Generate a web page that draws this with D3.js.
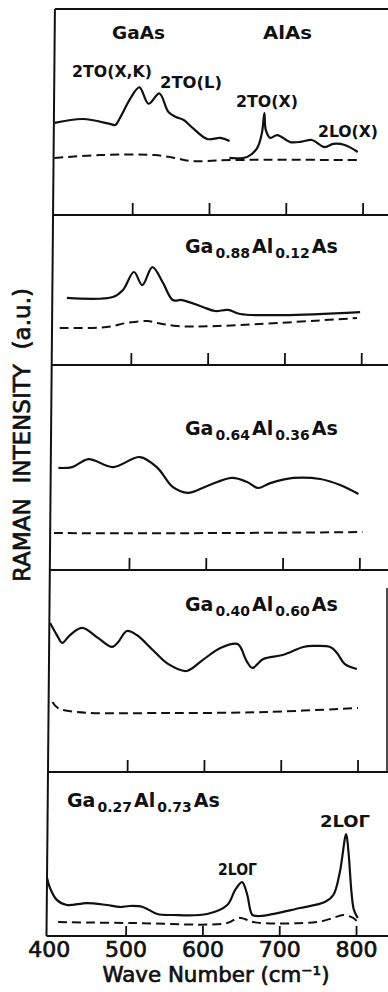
<!DOCTYPE html>
<html>
<head>
<meta charset="utf-8">
<script src="https://cdn.jsdelivr.net/npm/d3@7"></script>
<style>
  body { margin: 0; background: #fff; }
  svg { display: block; }
</style>
</head>
<body>
<div id="chart"></div>
<script>
// Raman spectra, five stacked panels. x = wave number (cm-1), y = intensity (a.u., 0-100 per panel)
const waveTicks = [400, 500, 600, 700, 800];

// panel 1: GaAs and AlAs
const gaasSolid = [[398,44.7],[435,46.6],[470,44.2],[477,43.7],[483,47.1],[497,57],[508,62],[520,54],[534,59],[546,50],[556,47.6],[566,46.1],[578,42.2],[597,36.9],[614,37.4],[626,35.9]];
const alasSolid = [[626,27.7],[649,28.2],[662,32.5],[668,39.8],[671,49.5],[673,41.3],[679,37.4],[688,38.8],[705,35.4],[720,35.6],[733,36.4],[750,33.0],[761,34.5],[776,34.0],[793,30.6]];
const p1Dashed = [[398,27.7],[458,29.1],[529,29.1],[555,27.7],[575,26.2],[627,26.7],[792,26.7]];

// panel 2: Ga0.88Al0.12As
const p2Solid = [[416,44.7],[476,45.3],[489,50],[503,62],[514,53.3],[527,65.3],[541,54.7],[554,43.3],[566,43.3],[593,38.7],[609,36],[626,36.7],[642,34],[698,33.3],[798,35.3]];
const p2Dashed = [[407,24.7],[468,25.3],[494,28],[521,29.3],[534,28],[560,26],[612,26],[794,31.3]];

// panel 3: Ga0.64Al0.36As
const p3Solid = [[407,49.8],[425,50.2],[446,54.1],[478,50.2],[513,55.1],[536,49.8],[556,40.5],[576,37.6],[601,41],[633,44.9],[653,42.9],[667,40],[683,42.4],[713,44.9],[748,44.4],[774,41.5],[798,37.1]];
const p3Dashed = [[402,18],[600,18],[804,18.5]];

// panel 4: Ga0.40Al0.60As
const p4Solid = [[398,73.8],[407,67.8],[414,63.9],[424,67.8],[440,71.3],[459,66.8],[479,61.9],[487,64.4],[498,69.8],[511,67.8],[532,60.4],[552,53.5],[576,50],[597,55.4],[620,61.4],[642,63.4],[646,61.9],[655,54.5],[662,51.5],[676,55.9],[701,57.9],[728,61.9],[741,62.4],[763,61.9],[772,58.9],[782,53.5],[798,51]];
const p4Dashed = [[402,34.7],[409,31.7],[434,29.7],[551,29.2],[681,29.7],[800,31.7]];

// panel 5: Ga0.27Al0.73As
const p5Solid = [[397,35.4],[401,29.3],[410,22],[423,18.9],[449,20.1],[475,18.9],[492,17.7],[505,18.3],[522,17.7],[541,13.4],[561,12.8],[606,13.4],[632,18.9],[642,28],[651,32.9],[658,25],[662,15.9],[665,12.8],[675,12.2],[727,17.1],[759,20.7],[770,25],[778,38.4],[786,62.2],[789,52.4],[794,25],[797,15.9],[802,11]];
const p5Dashed = [[412,8.5],[509,7.9],[632,7.9],[646,11],[655,10.4],[666,8.5],[749,8.5],[770,11],[783,12.8],[796,11],[802,8.5]];

const panelSeries = [
  { solid: [gaasSolid, alasSolid], dashed: p1Dashed },
  { solid: [p2Solid], dashed: p2Dashed },
  { solid: [p3Solid], dashed: p3Dashed },
  { solid: [p4Solid], dashed: p4Dashed },
  { solid: [p5Solid], dashed: p5Dashed }
];

// compound labels: alternating element / subscript
const formulaLabels = [
  { x: 185, y: 253, parts: ["Ga", "0.88", "Al", "0.12", "As"] },
  { x: 185, y: 435, parts: ["Ga", "0.64", "Al", "0.36", "As"] },
  { x: 185, y: 611, parts: ["Ga", "0.40", "Al", "0.60", "As"] },
  { x: 67, y: 807, parts: ["Ga", "0.27", "Al", "0.73", "As"] }
];

const peakLabels = [
  { text: "GaAs", x: 112, y: 39, w: 53, size: 18 },
  { text: "AlAs", x: 263, y: 39, w: 49, size: 18 },
  { text: "2TO(X,K)", x: 72, y: 77, w: 80, size: 16 },
  { text: "2TO(L)", x: 160, y: 88, w: 62, size: 16 },
  { text: "2TO(X)", x: 236, y: 107, w: 62, size: 16 },
  { text: "2LO(X)", x: 318, y: 137, w: 60, size: 16 },
  { text: "2LO\u0393", x: 218, y: 875, w: 39, size: 16 },
  { text: "2LO\u0393", x: 320, y: 827, w: 50, size: 16 }
];

const width = 388, height = 992;
const panelEdges = [9, 215, 365, 570, 772, 936];
const bottom = panelEdges[panelEdges.length - 1];
const font = "'DejaVu Sans', sans-serif";

const svg = d3.select("#chart").append("svg")
  .attr("width", width)
  .attr("height", height);

const x = d3.scaleLinear().domain([397, 840]).range([46.5, 386.7]);

// the scanned figure leans slightly, so skew the plot group
const plot = svg.append("g")
  .attr("transform", `translate(0,${bottom}) skewX(-0.52) translate(0,${-bottom})`);

// left frame line
plot.append("line")
  .attr("x1", x(397)).attr("x2", x(397))
  .attr("y1", panelEdges[0]).attr("y2", bottom)
  .attr("stroke", "#111").attr("stroke-width", 2);

panelSeries.forEach((p, i) => {
  const top = panelEdges[i], bot = panelEdges[i + 1];
  const y = d3.scaleLinear().domain([0, 100]).range([bot, top]);
  const line = d3.line()
    .x(d => x(d[0]))
    .y(d => y(d[1]))
    .curve(d3.curveCatmullRom.alpha(0.5));

  // inward ticks on the bottom edge of each panel
  const axis = plot.append("g")
    .attr("transform", `translate(0,${bot})`)
    .call(d3.axisTop(x).tickValues(waveTicks.slice(1)).tickSize(i === 4 ? 10 : 12).tickFormat(""));
  axis.select(".domain").remove();
  axis.selectAll(".tick line").attr("stroke", "#111").attr("stroke-width", 1.8);

  plot.append("path")
    .datum(p.dashed)
    .attr("d", line)
    .attr("fill", "none")
    .attr("stroke", "#111")
    .attr("stroke-width", 2)
    .attr("stroke-dasharray", "9,5");

  p.solid.forEach(s => {
    plot.append("path")
      .datum(s)
      .attr("d", line)
      .attr("fill", "none")
      .attr("stroke", "#111")
      .attr("stroke-width", 2.2)
      .attr("stroke-linejoin", "round");
  });
});

// horizontal frame lines
plot.selectAll(".hline")
  .data(panelEdges)
  .enter()
  .append("line")
  .attr("class", "hline")
  .attr("x1", x(397)).attr("x2", 400)
  .attr("y1", d => d).attr("y2", d => d)
  .attr("stroke", "#111").attr("stroke-width", 2);

// partial right border seen on the lower panels
svg.append("line")
  .attr("x1", 387).attr("x2", 387)
  .attr("y1", 588).attr("y2", panelEdges[4])
  .attr("stroke", "#111").attr("stroke-width", 1.5);

// x axis labels
const xAxis = svg.append("g")
  .attr("transform", `translate(0,${bottom})`)
  .call(d3.axisBottom(x).tickValues(waveTicks).tickSize(0));
xAxis.select(".domain").remove();
xAxis.selectAll(".tick text")
  .attr("y", 21).attr("dy", 0)
  .attr("fill", "#111")
  .attr("stroke", "#111").attr("stroke-width", 0.7)
  .style("font-family", font)
  .style("font-size", "22px");

svg.append("text")
  .attr("x", 216).attr("y", 982)
  .attr("text-anchor", "middle")
  .attr("textLength", 227).attr("lengthAdjust", "spacingAndGlyphs")
  .style("font-family", font).style("font-size", "21px")
  .attr("fill", "#111").attr("stroke", "#111").attr("stroke-width", 0.7)
  .text("Wave Number (cm\u207B\u00B9)");

svg.append("text")
  .attr("transform", "translate(30,435) rotate(-90)")
  .attr("text-anchor", "middle")
  .attr("textLength", 294).attr("lengthAdjust", "spacingAndGlyphs")
  .style("font-family", font).style("font-size", "23px")
  .attr("fill", "#111").attr("stroke", "#111").attr("stroke-width", 0.7)
  .attr("xml:space", "preserve")
  .text("RAMAN  INTENSITY  (a.u.)");

// peak and material labels
svg.selectAll(".peak")
  .data(peakLabels)
  .enter()
  .append("text")
  .attr("class", "peak")
  .attr("x", d => d.x).attr("y", d => d.y)
  .attr("textLength", d => d.w).attr("lengthAdjust", "spacingAndGlyphs")
  .style("font-family", font).style("font-weight", "bold")
  .style("font-size", d => d.size + "px").attr("fill", "#111")
  .text(d => d.text);

// alloy formulas with subscripts
formulaLabels.forEach(f => {
  const t = svg.append("text")
    .attr("x", f.x).attr("y", f.y)
    .style("font-family", font).style("font-weight", "bold").attr("fill", "#111");
  f.parts.forEach((part, j) => {
    const sub = j % 2 === 1;
    t.append("tspan")
      .attr("dx", j === 0 ? 0 : 2)
      .attr("dy", j === 0 ? 0 : (sub ? 5 : -5))
      .style("font-size", sub ? "14px" : "19px")
      .text(part);
  });
});
</script>
</body>
</html>
